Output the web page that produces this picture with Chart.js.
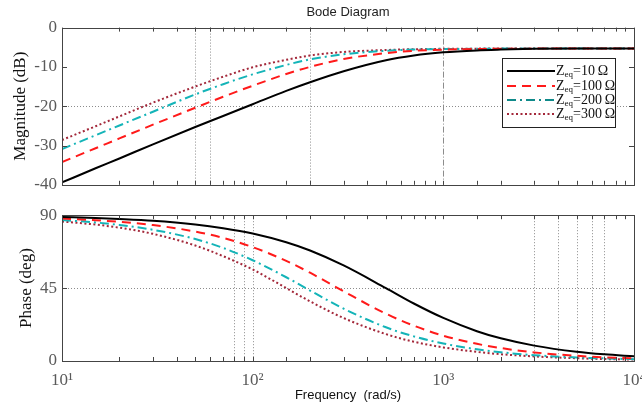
<!DOCTYPE html>
<html>
<head>
<meta charset="utf-8">
<script src="https://cdn.jsdelivr.net/npm/chart.js@4.4.0/dist/chart.umd.min.js"></script>
<style>
    body { margin: 0; background: #fff; }
    #wrap { position: relative; width: 642px; height: 407px; }
    .panel { position: absolute; left: 0; }
</style>
</head>
<body>
<div id="wrap">
    <div class="panel" style="top:0"><canvas id="magChart" width="642" height="200"></canvas></div>
    <div class="panel" style="top:200px"><canvas id="phaseChart" width="642" height="207"></canvas></div>
</div>
<script>
// frequencies (rad/s)
const freqs = [10, 15, 20, 30, 50, 70, 100, 150, 200, 300, 500, 700, 1000, 1500, 2000, 3000, 5000, 7000, 10000];

// magnitude (dB)
const mag10  = [-39.4, -35.8, -33.3, -29.7, -25.3, -22.5, -19.5, -16.1, -13.9, -11.1, -8.3, -7.1, -6.3, -5.8, -5.6, -5.4, -5.3, -5.3, -5.3];
const mag100 = [-34.2, -30.7, -28.2, -24.7, -20.4, -17.6, -14.8, -11.8, -10.0, -8.0, -6.5, -5.9, -5.6, -5.45, -5.4, -5.35, -5.3, -5.3, -5.3];
const mag200 = [-30.9, -27.4, -24.9, -21.4, -17.0, -14.4, -11.9, -9.5, -8.1, -6.8, -5.9, -5.6, -5.45, -5.4, -5.35, -5.3, -5.3, -5.3, -5.3];
const mag300 = [-28.6, -25.1, -22.6, -19.1, -15.0, -12.5, -10.1, -8.2, -7.1, -6.2, -5.7, -5.5, -5.4, -5.35, -5.3, -5.3, -5.3, -5.3, -5.3];

// phase (deg)
const phase10  = [88.9, 88.3, 87.7, 86.6, 84.3, 82.0, 78.7, 73.3, 68.2, 59.0, 45.0, 35.5, 26.6, 18.4, 14.0, 9.5, 5.7, 4.1, 2.9];
const phase100 = [88.0, 86.9, 85.9, 83.9, 79.9, 76.0, 70.3, 61.8, 54.5, 43.0, 29.2, 21.8, 15.6, 10.6, 8.0, 5.3, 3.2, 2.3, 1.6];
const phase200 = [87.0, 85.5, 84.0, 81.0, 75.3, 69.8, 62.2, 51.7, 43.5, 32.3, 20.8, 15.2, 10.8, 7.2, 5.4, 3.6, 2.2, 1.6, 1.1];
const phase300 = [86.1, 84.2, 82.3, 78.5, 71.3, 64.7, 56.5, 45.0, 36.8, 26.5, 16.6, 11.9, 8.4, 5.6, 4.2, 2.8, 1.7, 1.2, 0.9];

const seriesNames = ['10', '100', '200', '300'];
const seriesColors = ['#000000', '#ff1a1a', '#14b4b8', '#a3283a'];
const legendColors = ['#000000', '#ff1a1a', '#0f8a8a', '#a3283a'];
const seriesDashes = [[], [9, 6], [9, 4, 2, 4], [2, 2.5]];

const decadeValues = [10, 100, 1000, 10000];
const decadeLabels = ['10\u00b9', '10\u00b2', '10\u00b3', '10\u2074'];

// odd grid lines the original figure shows
const magGridX = [50, 60, 200];
const magGridXDashDot = [1000];
const magGridY = [-20];
const phaseGridX = [80, 90, 100, 3000, 4000, 5000, 6000, 7000];
const phaseGridY = [0, 45, 90];

const serif = "'Liberation Serif', 'Times New Roman', serif";
const sans = "'Liberation Sans', Arial, sans-serif";

function toPoints(ys) {
    return freqs.map((f, i) => ({ x: f, y: ys[i] }));
}

function makeDatasets(list) {
    return list.map((ys, i) => ({
        label: 'Zeq=' + seriesNames[i] + ' \u03a9',
        data: toPoints(ys),
        borderColor: seriesColors[i],
        borderDash: seriesDashes[i],
        borderWidth: 2,
        pointRadius: 0,
        cubicInterpolationMode: 'monotone',
        fill: false
    }));
}

// dotted grid lines, frame and inward tick marks
const frameGrid = {
    id: 'frameGrid',
    beforeDatasetsDraw(chart, args, opts) {
        const { ctx, chartArea: a, scales: { x, y } } = chart;
        ctx.save();
        ctx.lineWidth = 1;
        ctx.strokeStyle = '#8c8c8c';
        ctx.setLineDash([1, 2]);
        (opts.xs || []).forEach(v => {
            const px = Math.round(x.getPixelForValue(v)) + 0.5;
            ctx.beginPath(); ctx.moveTo(px, a.top); ctx.lineTo(px, a.bottom); ctx.stroke();
        });
        (opts.ys || []).forEach(v => {
            const py = Math.round(y.getPixelForValue(v)) + 0.5;
            ctx.beginPath(); ctx.moveTo(a.left, py); ctx.lineTo(a.right, py); ctx.stroke();
        });
        ctx.setLineDash([6, 2, 1, 2]);
        (opts.xsAlt || []).forEach(v => {
            const px = Math.round(x.getPixelForValue(v)) + 0.5;
            ctx.beginPath(); ctx.moveTo(px, a.top); ctx.lineTo(px, a.bottom); ctx.stroke();
        });
        ctx.restore();
    },
    afterDatasetsDraw(chart) {
        const { ctx, chartArea: a, scales: { x, y } } = chart;
        ctx.save();
        ctx.strokeStyle = '#444';
        ctx.lineWidth = 1;
        ctx.setLineDash([]);
        x.ticks.forEach(t => {
            const px = Math.round(x.getPixelForValue(t.value)) + 0.5;
            ctx.beginPath();
            ctx.moveTo(px, a.bottom); ctx.lineTo(px, a.bottom - 4);
            ctx.moveTo(px, a.top); ctx.lineTo(px, a.top + 4);
            ctx.stroke();
        });
        y.ticks.forEach(t => {
            const py = Math.round(y.getPixelForValue(t.value)) + 0.5;
            ctx.beginPath();
            ctx.moveTo(a.left, py); ctx.lineTo(a.left + 5, py);
            ctx.moveTo(a.right, py); ctx.lineTo(a.right - 5, py);
            ctx.stroke();
        });
        ctx.strokeRect(Math.round(a.left) + 0.5, Math.round(a.top) + 0.5,
            Math.round(a.right - a.left), Math.round(a.bottom - a.top));
        ctx.restore();
    }
};

// legend with subscript "eq"
const boxLegend = {
    id: 'boxLegend',
    afterDraw(chart) {
        const ctx = chart.ctx;
        const bx = 502, by = 58, bw = 113, bh = 69;
        const rows = [71, 86, 100, 114];
        ctx.save();
        ctx.fillStyle = '#fff';
        ctx.fillRect(bx, by, bw, bh);
        ctx.strokeStyle = '#222';
        ctx.lineWidth = 1;
        ctx.strokeRect(bx + 0.5, by + 0.5, bw, bh);
        seriesNames.forEach((name, i) => {
            const ry = rows[i];
            ctx.strokeStyle = legendColors[i];
            ctx.lineWidth = 2;
            ctx.setLineDash(seriesDashes[i]);
            ctx.beginPath(); ctx.moveTo(507, ry); ctx.lineTo(555, ry); ctx.stroke();
            ctx.setLineDash([]);
            ctx.fillStyle = '#111';
            ctx.textBaseline = 'middle';
            ctx.font = '14px ' + serif;
            let tx = 556;
            ctx.fillText('Z', tx, ry);
            tx += ctx.measureText('Z').width;
            ctx.font = '9px ' + serif;
            ctx.fillText('eq', tx, ry + 4);
            tx += ctx.measureText('eq').width;
            ctx.font = '14px ' + serif;
            ctx.fillText('=' + name + '\u2009\u03a9', tx, ry);
        });
        ctx.restore();
    }
};

function yAxis(min, max, step, title, titlePad) {
    return {
        min: min,
        max: max,
        ticks: { stepSize: step, padding: 5, color: '#5a5a5a', font: { family: serif, size: 17 } },
        grid: { display: false, drawTicks: false },
        border: { display: false },
        title: { display: true, text: title, color: '#111', font: { family: serif, size: 17 }, padding: { top: titlePad } },
        afterFit: s => { s.width = 62; }
    };
}

const magChart = new Chart(document.getElementById('magChart'), {
    type: 'line',
    data: { datasets: makeDatasets([mag10, mag100, mag200, mag300]) },
    plugins: [frameGrid, boxLegend],
    options: {
        responsive: false,
        animation: false,
        layout: { padding: { top: 2, right: 8, bottom: 4, left: 0 } },
        scales: {
            x: {
                type: 'logarithmic',
                min: 10,
                max: 10000,
                ticks: { display: false, autoSkip: false },
                grid: { display: false, drawTicks: false },
                border: { display: false },
                afterFit: s => { s.height = 0; s.paddingLeft = 0; s.paddingRight = 0; }
            },
            y: yAxis(-40, 0, 10, 'Magnitude (dB)', 10)
        },
        plugins: {
            legend: { display: false },
            tooltip: { enabled: false },
            title: {
                display: true,
                fullSize: false,
                text: 'Bode Diagram',
                color: '#222',
                font: { family: sans, size: 13, weight: 'normal' },
                padding: { top: 3, bottom: 7 }
            },
            frameGrid: { xs: magGridX, xsAlt: magGridXDashDot, ys: magGridY }
        }
    }
});

const phaseChart = new Chart(document.getElementById('phaseChart'), {
    type: 'line',
    data: { datasets: makeDatasets([phase10, phase100, phase200, phase300]) },
    plugins: [frameGrid],
    options: {
        responsive: false,
        animation: false,
        layout: { padding: { top: 11, right: 8, bottom: 0, left: 0 } },
        scales: {
            x: {
                type: 'logarithmic',
                min: 10,
                max: 10000,
                ticks: {
                    autoSkip: false,
                    maxRotation: 0,
                    padding: 9,
                    color: '#5a5a5a',
                    font: { family: serif, size: 17 },
                    callback: v => {
                        const k = decadeValues.indexOf(Math.round(v));
                        return k >= 0 ? decadeLabels[k] : '';
                    }
                },
                grid: { display: false, drawTicks: false },
                border: { display: false },
                title: { display: true, text: 'Frequency  (rad/s)', color: '#111', font: { family: sans, size: 13 }, padding: { bottom: 4 } },
                afterFit: s => { s.height = 46; s.paddingLeft = 0; s.paddingRight = 0; }
            },
            y: yAxis(0, 90, 45, 'Phase (deg)', 16)
        },
        plugins: {
            legend: { display: false },
            tooltip: { enabled: false },
            frameGrid: { xs: phaseGridX, ys: phaseGridY }
        }
    }
});
</script>
</body>
</html>
